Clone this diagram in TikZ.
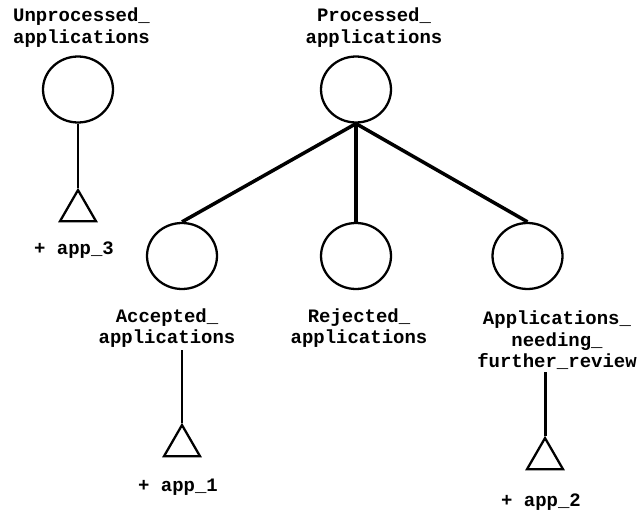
\documentclass[tikz,border=0pt]{standalone}
\usepackage{fontspec}
\setmonofont{Liberation Mono}
\usepackage{tikz}
\usetikzlibrary{positioning,shapes.geometric}
\tikzset{
    setnode/.style={
        draw, ellipse, line width=1.3pt,
        minimum width=1.4cm, minimum height=1.32cm, inner sep=0pt
    },
    instnode/.style={
        draw, regular polygon, regular polygon sides=3, line width=1.3pt,
        minimum size=0.83cm, inner sep=0pt
    },
    setlabel/.style={
        font=\fontsize{10.8}{12.3}\selectfont\ttfamily\bfseries, align=center, inner sep=1pt
    },
    instlabel/.style={
        font=\fontsize{10.8}{12.3}\selectfont\ttfamily\bfseries, inner sep=1pt
    },
    branch/.style={line width=2pt},
    stem/.style={line width=1.7pt},
}
\begin{document}
\begin{tikzpicture}[x=0.02cm, y=-0.02cm]
    \useasboundingbox (0,0) rectangle (638,510);
    % sets
    \node[setnode] (unproc) at (78,89.5) {};
    \node[setnode] (proc) at (356,89.5) {};
    \node[setnode] (acc) at (182,256) {};
    \node[setnode] (rej) at (356,256) {};
    \node[setnode] (need) at (527.5,256) {};
    \node[setlabel] (unproclbl) at (81.5,27.5) {Unprocessed\_\\applications};
    \node[setlabel] (proclbl) at (374,27.5) {Processed\_\\applications};
    \node[setlabel] (acclbl) at (167,328) {Accepted\_\\applications};
    \node[setlabel] (rejlbl) at (359,328) {Rejected\_\\applications};
    \node[setlabel] (needlbl) at (557,340.5) {Applications\_\\needing\_\\further\_review};
    % instances
    \node[instnode] (unproctri) at (78,210.8) {};
    \node[instnode] (acctri) at (182,445.8) {};
    \node[instnode] (needtri) at (545,458.8) {};
    \node[instlabel] (app3) at (74,250) {+ app\_3};
    \node[instlabel] (app1) at (178,487) {+ app\_1};
    \node[instlabel] (app2) at (541,502) {+ app\_2};
    % links
    \draw[branch] (proc.south) -- (acc.north);
    \draw[branch] (proc.south) -- (rej.north);
    \draw[branch] (proc.south) -- (need.north);
    \draw[stem] (unproc.south) -- (unproctri.north);
    \draw[stem] (acctri.north) -- (acctri.north |- acclbl.south);
    \draw[stem] (needtri.north) -- (needtri.north |- needlbl.south);
\end{tikzpicture}
\end{document}
